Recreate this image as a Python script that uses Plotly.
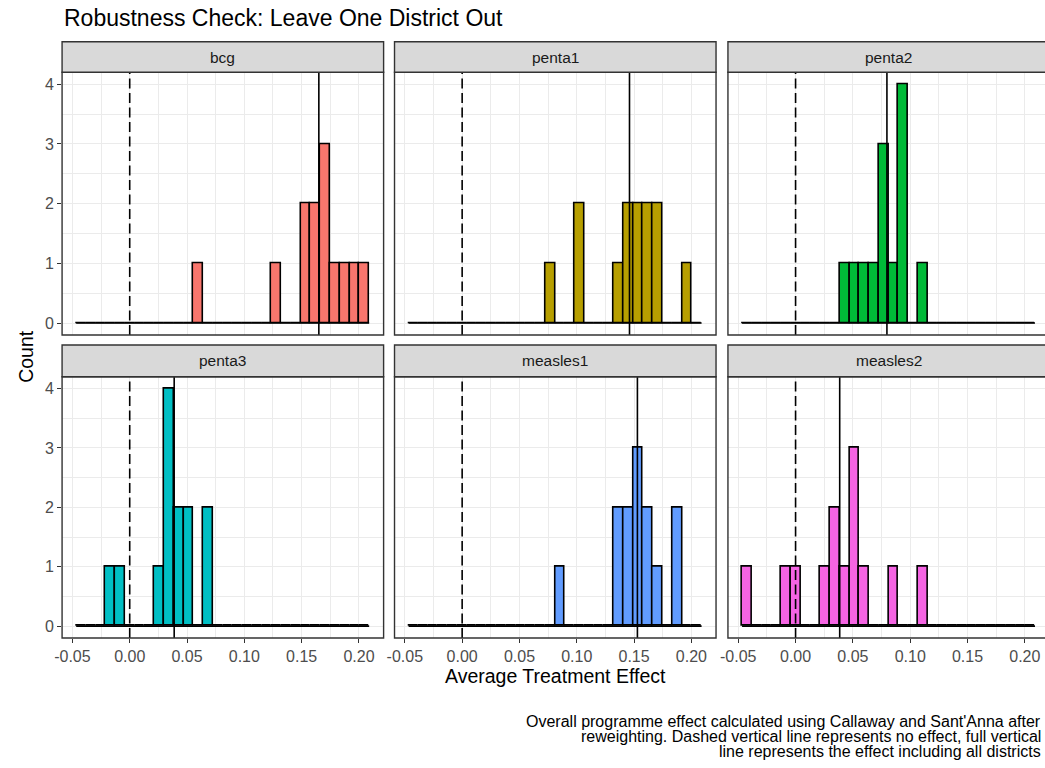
import plotly.graph_objects as go
from plotly.subplots import make_subplots

# ---------------- data ----------------
panels = ["bcg", "penta1", "penta2", "penta3", "measles1", "measles2"]
colors = ["#F8766D", "#B79F00", "#00BA38", "#00BFC4", "#619CFF", "#F564E3"]

bin_start = -0.0467
bin_width = 0.00852
n_bins = 30

# counts per bin (30 bins)
counts_bcg      = [0,0,0,0,0,0,0,0,0,0,0,0,1,0,0,0,0,0,0,0,1,0,0,2,2,3,1,1,1,1]
counts_penta1   = [0,0,0,0,0,0,0,0,0,0,0,0,0,0,1,0,0,2,0,0,0,1,2,2,2,2,0,0,1,0]
counts_penta2   = [0,0,0,0,0,0,0,0,0,0,1,1,1,1,3,1,4,0,1,0,0,0,0,0,0,0,0,0,0,0]
counts_penta3   = [0,0,0,1,1,0,0,0,1,4,2,2,0,2,0,0,0,0,0,0,0,0,0,0,0,0,0,0,0,0]
counts_measles1 = [0,0,0,0,0,0,0,0,0,0,0,0,0,0,0,1,0,0,0,0,0,2,2,3,2,1,0,2,0,0]
counts_measles2 = [1,0,0,0,1,1,0,0,1,2,1,3,1,0,0,1,0,0,1,0,0,0,0,0,0,0,0,0,0,0]
all_counts = [counts_bcg, counts_penta1, counts_penta2,
              counts_penta3, counts_measles1, counts_measles2]

# effect including all districts (solid line)
overall_effect = [0.1650, 0.1460, 0.0797, 0.0388, 0.1529, 0.0385]
no_effect = 0.0

x_tickvals = [-0.05, 0.0, 0.05, 0.10, 0.15, 0.20]
x_ticktext = ["-0.05", "0.00", "0.05", "0.10", "0.15", "0.20"]
y_tickvals = [0, 1, 2, 3, 4]
y_ticktext = ["0", "1", "2", "3", "4"]

title_text = "Robustness Check: Leave One District Out"
x_title = "Average Treatment Effect"
y_title = "Count"
caption_lines = [
    "Overall programme effect calculated using Callaway and Sant'Anna after",
    "reweighting. Dashed vertical line represents no effect, full vertical",
    "line represents the effect including all districts",
]

# ---------------- layout geometry (pixels) ----------------
W, H = 1045, 768
FONT = "Liberation Sans, Arial, Helvetica, sans-serif"
col_px = [(54.5, 378.5), (389.5, 713.5), (725.5, 1049.5)]
row_panel_px = [(72.3, 335.0), (376.7, 638.0)]
row_strip_px = [(41.7, 72.3), (345.0, 376.7)]
x_lo, x_hi = -0.059, 0.2215
px_per_unit = (col_px[0][1] - col_px[0][0]) / (x_hi - x_lo)
TICK_SIZE = 16
STRIP_SIZE = 15.5


def px(x):
    return x / W


def py(y):
    return 1 - y / H


edges = [bin_start + i * bin_width for i in range(n_bins + 1)]
centers = [bin_start + (i + 0.5) * bin_width for i in range(n_bins)]

fig = make_subplots(rows=2, cols=3)

shapes = []
annotations = []
for k, name in enumerate(panels):
    r, c = divmod(k, 3)
    # baseline of empty bins
    fig.add_trace(go.Scatter(x=[edges[0], edges[-1]], y=[0, 0], mode="lines",
                             line=dict(color="black", width=1.6),
                             showlegend=False, hoverinfo="skip"),
                  row=r + 1, col=c + 1)
    fig.add_trace(go.Bar(x=centers, y=all_counts[k], width=bin_width,
                         marker=dict(color=colors[k],
                                     line=dict(color="black", width=1.6)),
                         showlegend=False),
                  row=r + 1, col=c + 1)
    ax = "" if k == 0 else str(k + 1)
    xl, xr = col_px[c]
    xr_vis = min(xr, W)
    rng_hi = x_lo + (xr_vis - xl) / px_per_unit
    yt, yb = row_panel_px[r]
    fig.update_layout({
        f"xaxis{ax}": dict(
            domain=[px(xl), px(xr_vis)], range=[x_lo, rng_hi],
            tickvals=x_tickvals, ticktext=x_ticktext,
            showticklabels=(r == 1), ticks="outside" if r == 1 else "",
            ticklen=4, tickcolor="#333333", tickwidth=1.3,
            tickfont=dict(family=FONT, size=TICK_SIZE, color="#4D4D4D"),
            showgrid=True, gridcolor="#EBEBEB", gridwidth=1.3,
            minor=dict(dtick=0.025, tick0=0, showgrid=True,
                       gridcolor="#EBEBEB", gridwidth=0.65),
            zeroline=False, showline=False, fixedrange=True),
        f"yaxis{ax}": dict(
            domain=[py(yb), py(yt)], range=[-0.2, 4.2],
            tickvals=y_tickvals, ticktext=y_ticktext,
            showticklabels=(c == 0), ticks="outside" if c == 0 else "",
            ticklen=4, tickcolor="#333333", tickwidth=1.3,
            tickfont=dict(family=FONT, size=TICK_SIZE, color="#4D4D4D"),
            showgrid=True, gridcolor="#EBEBEB", gridwidth=1.3,
            minor=dict(dtick=0.5, tick0=0, showgrid=True,
                       gridcolor="#EBEBEB", gridwidth=0.65),
            zeroline=False, showline=False, fixedrange=True),
    })
    xref = f"x{ax}"
    yref_dom = f"y{ax} domain"
    # dashed no-effect line and solid overall-effect line
    shapes.append(dict(type="line", xref=xref, yref=yref_dom,
                       x0=no_effect, x1=no_effect, y0=0, y1=1,
                       line=dict(color="black", width=1.6, dash="10px,4.5px"),
                       layer="above"))
    shapes.append(dict(type="line", xref=xref, yref=yref_dom,
                       x0=overall_effect[k], x1=overall_effect[k], y0=0, y1=1,
                       line=dict(color="black", width=1.6), layer="above"))
    # panel border
    shapes.append(dict(type="rect", xref="paper", yref="paper",
                       x0=px(xl), x1=px(xr), y0=py(yb), y1=py(yt),
                       line=dict(color="#333333", width=1.4),
                       fillcolor="rgba(0,0,0,0)", layer="above"))
    # strip
    st, sb = row_strip_px[r]
    shapes.append(dict(type="rect", xref="paper", yref="paper",
                       x0=px(xl), x1=px(xr), y0=py(sb), y1=py(st),
                       line=dict(color="#333333", width=1.4),
                       fillcolor="#D9D9D9", layer="above"))
    annotations.append(dict(text=name, xref="paper", yref="paper",
                            x=px((xl + xr) / 2), y=py((st + sb) / 2),
                            xanchor="center", yanchor="middle", showarrow=False,
                            font=dict(family=FONT, size=STRIP_SIZE, color="#1A1A1A")))

# titles
annotations.append(dict(text=title_text, xref="paper", yref="paper",
                        x=px(54), y=py(18), xanchor="left", yanchor="middle",
                        showarrow=False,
                        font=dict(family=FONT, size=23, color="black")))
annotations.append(dict(text=x_title, xref="paper", yref="paper",
                        x=px((col_px[0][0] + col_px[2][1]) / 2), y=py(676),
                        xanchor="center", yanchor="middle", showarrow=False,
                        font=dict(family=FONT, size=19.5, color="black")))
annotations.append(dict(text=y_title, xref="paper", yref="paper",
                        x=px(18), y=py(356), xanchor="center", yanchor="middle",
                        textangle=-90, showarrow=False,
                        font=dict(family=FONT, size=19.5, color="black")))
for i, line in enumerate(caption_lines):
    annotations.append(dict(text=line, xref="paper", yref="paper",
                            x=px(1043), y=py(721 + 15 * i),
                            xanchor="right", yanchor="middle", showarrow=False,
                            font=dict(family=FONT, size=16, color="black")))

fig.update_layout(
    width=W, height=H,
    margin=dict(l=0, r=0, t=0, b=0),
    paper_bgcolor="white", plot_bgcolor="white",
    shapes=shapes, annotations=annotations,
    showlegend=False, bargap=0,
)

fig.write_html(
    "out.html",
    config={"displayModeBar": False},
    post_script="document.body.style.margin='0px';"
                "document.body.style.overflow='hidden';",
)
